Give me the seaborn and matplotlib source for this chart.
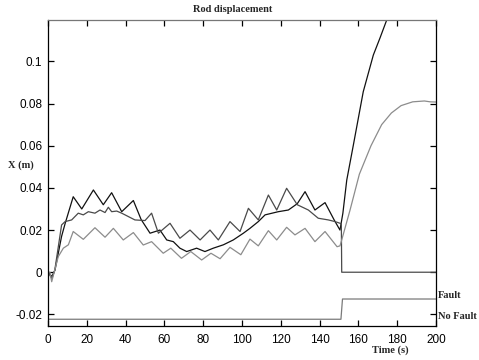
import matplotlib
matplotlib.use("Agg")
import matplotlib.pyplot as plt
import matplotlib.ticker as mticker
import pandas as pd
import seaborn as sns

# ---- data ----
black_t = [0, 2, 3.6, 7, 8.8, 13, 17.4, 23.4, 28.5, 32.8, 38, 44, 48, 52.6, 57.7, 61.2,
           64.6, 68, 71.5, 76.6, 80.9, 85.2, 90.4, 95.5, 100.7, 104.1, 108.4, 111.9,
           118.7, 123.9, 128.5, 132.5, 137.6, 142.8, 147.5, 150.5, 152, 154, 157.4,
           162.5, 167.7, 171.1, 174.6, 178]
black_v = [0, -0.002, 0.001, 0.017, 0.023, 0.0358, 0.030, 0.039, 0.032, 0.0377, 0.0287,
           0.034, 0.025, 0.0185, 0.020, 0.0153, 0.0145, 0.0114, 0.0098, 0.0114, 0.0098,
           0.0114, 0.013, 0.0153, 0.0185, 0.0208, 0.024, 0.0272, 0.0287, 0.0295, 0.0325,
           0.0382, 0.0295, 0.033, 0.0248, 0.020, 0.028, 0.0437, 0.0603, 0.0856, 0.103,
           0.111, 0.1196, 0.128]

dgray_t = [0, 2, 3.5, 7, 8.8, 12.2, 15.6, 18.2, 20.8, 24.2, 26.8, 29.4, 31.1, 32.8, 35.4,
           38, 41.4, 44.8, 50, 53.4, 56.9, 62.9, 68, 73.2, 78.4, 83.5, 87.8, 93.8, 99,
           103.3, 108.4, 113.6, 117.9, 123, 128.5, 134.2, 139.3, 144.5, 148, 151.2, 151.4,
           200]
dgray_v = [0, -0.003, 0.001, 0.0224, 0.024, 0.0248, 0.028, 0.0272, 0.0287, 0.028, 0.0295,
           0.0283, 0.0308, 0.0287, 0.029, 0.028, 0.0264, 0.0248, 0.0245, 0.028, 0.0185,
           0.0232, 0.0161, 0.020, 0.0153, 0.020, 0.0153, 0.024, 0.0193, 0.0303, 0.0248,
           0.0366, 0.0295, 0.0398, 0.032, 0.0295, 0.0256, 0.0248, 0.024, 0.023, 0.0, 0.0]

lgray_t = [0, 1, 1.9, 5.3, 7.9, 10.5, 13, 18.2, 24.2, 29.4, 33.7, 38.8, 44, 49.1, 53.4,
           59.4, 63.3, 68.8, 73.6, 79.2, 84, 88.7, 93.8, 99.4, 104.1, 108.4, 113.6, 117.9,
           123, 127.3, 132.5, 137.6, 142.8, 149, 150.5, 151.4, 155.7, 160.5, 166.5, 172,
           177, 182, 188, 194, 197, 200]
lgray_v = [0, 0, -0.0045, 0.0074, 0.0114, 0.013, 0.0193, 0.0156, 0.0211, 0.0166, 0.0208,
           0.0153, 0.0188, 0.0129, 0.0145, 0.009, 0.0114, 0.0066, 0.0098, 0.0058, 0.009,
           0.0064, 0.0118, 0.0083, 0.0157, 0.0125, 0.0197, 0.0153, 0.0213, 0.0177, 0.0208,
           0.0145, 0.0193, 0.0121, 0.0125, 0.0153, 0.0295, 0.0465, 0.060, 0.070, 0.0755,
           0.079, 0.0808, 0.0812, 0.0808, 0.0807]

fault_t = [0, 151, 151.8, 200]
fault_v = [-0.0223, -0.0223, -0.0127, -0.0127]

x_ticks = [0, 20, 40, 60, 80, 100, 120, 140, 160, 180, 200]
y_ticks = [-0.02, 0, 0.02, 0.04, 0.06, 0.08, 0.1]

# ---- plot ----
sns.set_style("ticks")
plt.rcParams['font.family'] = ['Liberation Sans', 'DejaVu Sans']
plt.rcParams['axes.unicode_minus'] = False

fig = plt.figure(figsize=(4.79, 3.6), dpi=100)
ax = fig.add_axes([48 / 479, 1 - 326 / 360, (436 - 48) / 479, (326 - 20) / 360])

series = [
    (black_t, black_v, "#111111"),
    (dgray_t, dgray_v, "#4a4a4a"),
    (lgray_t, lgray_v, "#8c8c8c"),
    (fault_t, fault_v, "#7a7a7a"),
]
for t, v, c in series:
    df = pd.DataFrame({"t": t, "v": v})
    sns.lineplot(data=df, x="t", y="v", ax=ax, color=c, lw=0.9,
                 sort=False, estimator=None)

ax.set_xlim(0, 200)
ax.set_ylim(-0.0255, 0.1196)
ax.set_xticks(x_ticks)
ax.set_yticks(y_ticks)
ax.yaxis.set_major_formatter(mticker.FuncFormatter(lambda v, p: "%g" % round(v, 4)))
ax.xaxis.set_major_formatter(mticker.FuncFormatter(lambda v, p: "%g" % v))
ax.set_xlabel("")
ax.set_ylabel("")
ax.tick_params(axis="both", which="major", direction="in", length=4, width=0.9,
               bottom=True, left=True, top=True, right=True,
               labelsize=8.5, color="black", labelcolor="black")
ax.tick_params(axis="x", pad=6)
ax.tick_params(axis="y", pad=4)
for s in ax.spines.values():
    s.set_color("black")
    s.set_linewidth(0.9)
    s.set_visible(True)
ax.spines["top"].set_color("#777777")

serif = dict(family=["Liberation Serif", "DejaVu Serif"], weight="bold", size=7.5)
fig.text(233 / 479, 1 - 10 / 360, "Rod displacement", ha="center", va="center", **serif)
fig.text(8 / 479, 1 - 165 / 360, "X (m)", ha="left", va="center", **serif)
fig.text(390 / 479, 1 - 350 / 360, "Time (s)", ha="center", va="center", **serif)
fig.text(438 / 479, 1 - 295 / 360, "Fault", ha="left", va="center", **serif)
fig.text(438 / 479, 1 - 316.5 / 360, "No Fault", ha="left", va="center", **serif)

fig.savefig("out.png", dpi=100)
